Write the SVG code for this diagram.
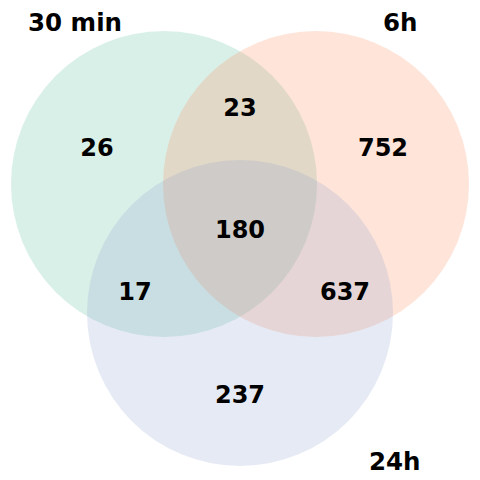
<svg xmlns="http://www.w3.org/2000/svg" width="480" height="480" viewBox="0 0 480 480">
<style>
text{font-family:"DejaVu Sans","Liberation Sans",sans-serif;font-weight:bold;font-size:24.5px;fill:#000}
.n{text-anchor:middle;font-size:24px}
</style>
<rect width="480" height="480" fill="#fff"/>
<g id="set-30min"><circle cx="164" cy="184" r="153" fill="#66c2a5" fill-opacity="0.25"/></g>
<g id="set-6h"><circle cx="316" cy="184" r="153" fill="#fc8d62" fill-opacity="0.24"/></g>
<g id="set-24h"><circle cx="240" cy="313" r="153" fill="#8da0cb" fill-opacity="0.22"/></g>
<g id="counts">
<text class="n" x="97" y="156">26</text>
<text class="n" x="240" y="116">23</text>
<text class="n" x="383" y="156">752</text>
<text class="n" x="240" y="238">180</text>
<text class="n" x="135" y="300">17</text>
<text class="n" x="345" y="300">637</text>
<text class="n" x="240" y="403">237</text>
</g>
<g id="labels">
<text x="28" y="31">30 min</text>
<text x="383" y="31">6h</text>
<text x="369" y="470">24h</text>
</g>
</svg>
